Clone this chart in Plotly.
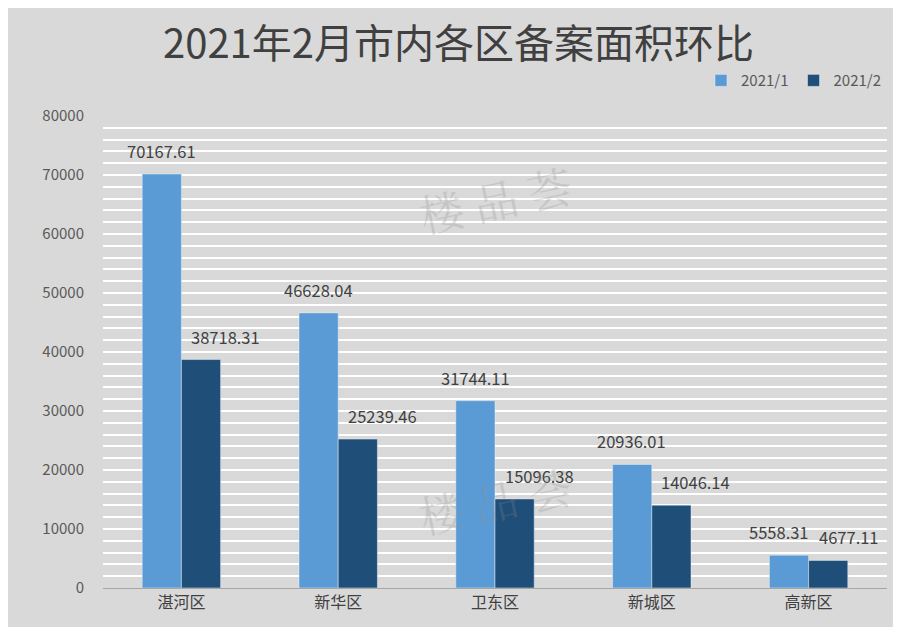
import plotly.graph_objects as go

districts = ["湛河区", "新华区", "卫东区", "新城区", "高新区"]
jan_values = [70167.61, 46628.04, 31744.11, 20936.01, 5558.31]
feb_values = [38718.31, 25239.46, 15096.38, 14046.14, 4677.11]
series_names = ["2021/1", "2021/2"]

font_family = "Noto Sans CJK SC"

fig = go.Figure()
fig.add_trace(go.Bar(x=districts, y=jan_values, name=series_names[0], marker_color="#5b9bd5"))
fig.add_trace(go.Bar(x=districts, y=feb_values, name=series_names[1], marker_color="#1f4e79"))

# value labels, lifted above each bar (2021/2 labels sit a bit to the right, as in Excel)
for i, d in enumerate(districts):
    last = i == len(districts) - 1
    jan_dx = -30 if last else -20
    feb_dx = 40 if last else 44
    for vals, dx in [(jan_values, jan_dx), (feb_values, feb_dx)]:
        fig.add_annotation(
            x=d, y=vals[i], text=f"{vals[i]:.2f}", showarrow=False,
            xshift=dx, yshift=23, yanchor="middle",
            font=dict(size=16.5, color="#404040"),
        )

# faint watermark
for y in [0.93, 0.08]:
    fig.add_annotation(
        x=0.5, y=y, xref="paper", yref="paper", text="楼 品 荟",
        showarrow=False, textangle=-12,
        font=dict(size=44, color="rgba(140,140,140,0.25)", family="Noto Serif CJK SC, Noto Sans CJK SC"),
    )

fig.update_layout(
    width=901, height=627,
    paper_bgcolor="#d9d9d9", plot_bgcolor="#d9d9d9",
    font=dict(family=font_family, color="#595959"),
    title=dict(text="2021年2月市内各区备案面积环比", x=0.5, xanchor="center", y=0.965,
               font=dict(size=40, color="#404040")),
    barmode="group", bargap=0.5, bargroupgap=0,
    margin=dict(l=95, r=22, t=108, b=47),
    legend=dict(orientation="h", x=1, xanchor="right", y=1.04, yanchor="bottom",
                font=dict(size=15, color="#595959"), bgcolor="rgba(0,0,0,0)"),
    showlegend=True,
)
fig.update_yaxes(
    range=[0, 80000], dtick=10000, tickformat="d", showgrid=True, gridcolor="white", gridwidth=2,
    minor=dict(dtick=2000, showgrid=True, gridcolor="white", gridwidth=2),
    tickfont=dict(size=15, color="#595959"), ticklabelstandoff=18, zeroline=False,
)
fig.update_xaxes(
    showline=True, linecolor="#a6a6a6", linewidth=1,
    tickfont=dict(size=16, color="#404040"),
)

fig.write_html("out.html")
